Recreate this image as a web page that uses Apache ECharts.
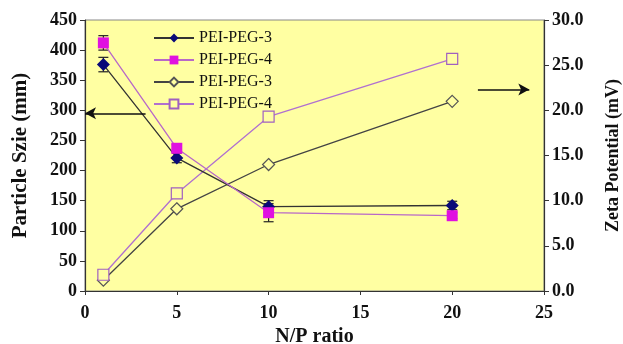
<!DOCTYPE html>
<html>
<head>
	<meta charset="utf-8">
	<title>Particle size / Zeta potential</title>
	<script src="https://cdn.jsdelivr.net/npm/echarts@6/dist/echarts.min.js"></script>
	<style>
		html,body{margin:0;padding:0;background:#fff;}
		#chart{width:623px;height:344px;}
	</style>
</head>
<body>
<div id="chart"></div>
<script>
// N/P ratio
var npRatio = [1, 5, 10, 20];
// particle size (left axis) with error
var size3 = [376, 221, 140, 142];
var size3Err = [12, 8, 10, 7];
var size4 = [412, 237, 130, 125];
var size4Err = [12, 6, 15, 5];
// zeta potential (right axis)
var zeta3 = [1.2, 9.1, 14.0, 21.0];
var zeta4 = [1.8, 10.8, 19.3, 25.7];
var seriesNames = ['PEI-PEG-3', 'PEI-PEG-4', 'PEI-PEG-3 ', 'PEI-PEG-4 '];

var serif = 'Liberation Serif';
var bg = '#FFFFA2';

function pairs(xs, ys){
    var out = [];
    for(var i=0;i<xs.length;i++){ out.push([xs[i], ys[i]]); }
    return out;
}
function errData(xs, ys, es){
    var out = [];
    for(var i=0;i<xs.length;i++){ out.push([xs[i], ys[i]-es[i], ys[i]+es[i]]); }
    return out;
}
function errSeries(data, color){
    return {
        type: 'custom',
        yAxisIndex: 0,
        silent: true,
        z: 1,
        data: data,
        renderItem: function(params, api){
            var lo = api.coord([api.value(0), api.value(1)]);
            var hi = api.coord([api.value(0), api.value(2)]);
            var w = 5;
            var st = {stroke: color, lineWidth: 1.2};
            return {type: 'group', children: [
                {type: 'line', shape: {x1: lo[0], y1: lo[1], x2: hi[0], y2: hi[1]}, style: st},
                {type: 'line', shape: {x1: lo[0]-w, y1: lo[1], x2: lo[0]+w, y2: lo[1]}, style: st},
                {type: 'line', shape: {x1: hi[0]-w, y1: hi[1], x2: hi[0]+w, y2: hi[1]}, style: st}
            ]};
        }
    };
}

var chart = echarts.init(document.getElementById('chart'));
var option = {
    animation: false,
    backgroundColor: '#fff',
    grid: {left: 85, right: 79, top: 20, bottom: 53, outerBoundsMode: 'none', containLabel: false,
        show: true, backgroundColor: bg, borderColor: '#888', borderWidth: 1},
    legend: {
        orient: 'vertical', left: 148, top: 25, itemGap: 6, itemWidth: 40, itemHeight: 11,
        data: seriesNames,
        formatter: function(n){ return n.trim(); },
        textStyle: {fontFamily: serif, fontSize: 16, color: '#111'}
    },
    xAxis: {
        type: 'value', min: 0, max: 25, interval: 5,
        name: 'N/P ratio', nameLocation: 'middle', nameGap: 36,
        nameTextStyle: {fontFamily: serif, fontWeight: 'bold', fontSize: 20, color: '#111'},
        axisLine: {lineStyle: {color: '#333', width: 1.2}},
        axisTick: {inside: false, length: 4, lineStyle: {color: '#333'}},
        axisLabel: {fontFamily: serif, fontWeight: 'bold', fontSize: 18, color: '#111', margin: 13},
        splitLine: {show: false}
    },
    yAxis: [{
        type: 'value', min: 0, max: 450, interval: 50, position: 'left',
        name: 'Particle Szie (mm)', nameLocation: 'middle', nameGap: 54, nameRotate: 90,
        nameTextStyle: {fontFamily: serif, fontWeight: 'bold', fontSize: 21, color: '#111'},
        axisLine: {show: true, lineStyle: {color: '#333', width: 1.2}},
        axisTick: {show: true, length: 5, lineStyle: {color: '#333'}},
        axisLabel: {fontFamily: serif, fontWeight: 'bold', fontSize: 18, color: '#111', margin: 8},
        splitLine: {show: false}
    }, {
        type: 'value', min: 0, max: 30, interval: 5, position: 'right',
        name: 'Zeta Potential (mV)', nameLocation: 'middle', nameGap: 60, nameRotate: 90,
        nameTextStyle: {fontFamily: serif, fontWeight: 'bold', fontSize: 18, color: '#111'},
        axisLine: {show: true, lineStyle: {color: '#333', width: 1.2}},
        axisTick: {show: true, length: 5, lineStyle: {color: '#333'}},
        axisLabel: {fontFamily: serif, fontWeight: 'bold', fontSize: 18, color: '#111', margin: 8,
            formatter: function(v){ return v.toFixed(1); }},
        splitLine: {show: false}
    }],
    series: [
        errSeries(errData(npRatio, size3, size3Err), '#222'),
        errSeries(errData(npRatio, size4, size4Err), '#222'),
        {
            name: seriesNames[0], type: 'line', yAxisIndex: 0, z: 4,
            data: pairs(npRatio, size3),
            symbol: 'diamond', symbolSize: 13,
            itemStyle: {color: '#0A0A78'},
            lineStyle: {color: '#333', width: 1.3},
            markLine: {
                silent: true, symbol: ['none', 'arrow'], symbolSize: [9, 11],
                label: {show: false},
                lineStyle: {color: '#111', width: 1.5, type: 'solid'},
                data: [[{coord: [3.3, 295]}, {coord: [0, 295]}]]
            }
        },
        {
            name: seriesNames[1], type: 'line', yAxisIndex: 0, z: 4,
            data: pairs(npRatio, size4),
            symbol: 'rect', symbolSize: 11,
            itemStyle: {color: '#E010E0'},
            lineStyle: {color: '#B868C8', width: 1.3}
        },
        {
            name: seriesNames[2], type: 'line', yAxisIndex: 1, z: 3,
            data: pairs(npRatio, zeta3),
            symbol: 'diamond', symbolSize: 12,
            itemStyle: {color: bg, borderColor: '#555', borderWidth: 1.2},
            lineStyle: {color: '#444', width: 1.3},
            markLine: {
                silent: true, symbol: ['none', 'arrow'], symbolSize: [9, 11],
                label: {show: false},
                lineStyle: {color: '#111', width: 1.5, type: 'solid'},
                data: [[{coord: [21.4, 22.3]}, {coord: [24.2, 22.3]}]]
            }
        },
        {
            name: seriesNames[3], type: 'line', yAxisIndex: 1, z: 3,
            data: pairs(npRatio, zeta4),
            symbol: 'rect', symbolSize: 11,
            itemStyle: {color: bg, borderColor: '#A060C0', borderWidth: 1.2},
            lineStyle: {color: '#B070D0', width: 1.3}
        }
    ]
};
chart.setOption(option);
</script>
</body>
</html>
